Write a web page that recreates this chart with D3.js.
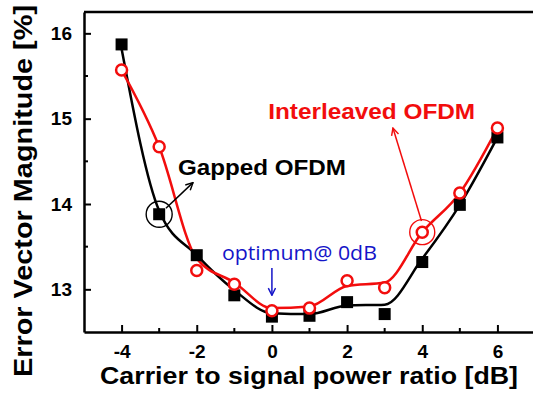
<!DOCTYPE html>
<html>
<head>
<meta charset="utf-8">
<script src="https://cdn.jsdelivr.net/npm/d3@7"></script>
<style>
  html, body { margin: 0; padding: 0; background: #fff; }
  svg { display: block; }
</style>
</head>
<body>
<svg id="chart" width="533" height="393"></svg>
<script>
// ---- data ----
const xValues = [-4, -3, -2, -1, 0, 1, 2, 3, 4, 5, 6];
const gappedValues = [15.87, 13.88, 13.40, 12.93, 12.68, 12.69, 12.85, 12.71, 13.32, 13.99, 14.78];
const interleavedValues = [15.57, 14.67, 13.22, 13.06, 12.75, 12.78, 13.10, 13.02, 13.67, 14.13, 14.89];
// fitted (smoothed) curves
const gappedFit = [15.82, 13.92, 13.40, 12.99, 12.72, 12.71, 12.81, 12.82, 13.36, 13.99, 14.78];
const interleavedFit = [15.57, 14.67, 13.36, 13.08, 12.78, 12.80, 13.04, 13.08, 13.67, 14.13, 14.89];
const xTicks = [-4, -2, 0, 2, 4, 6];
const yTicks = [13, 14, 15, 16];
const xMinorTicks = [-3, -1, 1, 3, 5];
const yMinorTicks = [13.5, 14.5, 15.5];

const svg = d3.select("#chart");
const mLeft = 84, mRight = 535, mTop = 12, mBottom = 332;
const x = d3.scaleLinear().domain([-5, 7]).range([mLeft, mRight]);
const y = d3.scaleLinear().domain([12.5, 16.25]).range([mBottom, mTop]);

const RED = "#f20d0d", BLUE = "#1414c8";
const FONT = "'Liberation Sans', Arial, sans-serif";

// defs: arrowheads
const defs = svg.append("defs");
function arrow(id, color) {
  defs.append("marker").attr("id", id).attr("viewBox", "0 0 10 10")
    .attr("refX", 9).attr("refY", 5).attr("markerWidth", 9).attr("markerHeight", 9)
    .attr("markerUnits", "userSpaceOnUse").attr("orient", "auto")
    .append("path").attr("d", "M1,1 L9,5 L1,9").attr("fill", "none")
    .attr("stroke", color).attr("stroke-width", 1.6);
}
arrow("arrBlack", "#000");
arrow("arrRed", RED);
arrow("arrBlue", BLUE);

// frame: top border
svg.append("line").attr("x1", mLeft).attr("x2", mRight).attr("y1", mTop).attr("y2", mTop)
  .attr("stroke", "#000").attr("stroke-width", 2.5);

// axes
const xAxis = d3.axisBottom(x).tickValues(xTicks).tickSizeInner(-7).tickSizeOuter(0).tickPadding(13)
  .tickFormat(d => d < 0 ? "-" + Math.abs(d) : String(d));
const gx = svg.append("g").attr("transform", `translate(0,${mBottom})`).call(xAxis);
const yAxis = d3.axisLeft(y).tickValues(yTicks).tickSizeInner(-7).tickSizeOuter(0).tickPadding(12)
  .tickFormat(d3.format("d"));
const gy = svg.append("g").attr("transform", `translate(${mLeft},0)`).call(yAxis);
[gx, gy].forEach(g => {
  g.select(".domain").attr("stroke", "#000").attr("stroke-width", 2.5);
  g.selectAll(".tick line").attr("stroke", "#000").attr("stroke-width", 2);
  g.selectAll(".tick text").attr("font-family", FONT).attr("font-weight", "bold")
    .attr("font-size", 19).attr("fill", "#000");
});
gx.selectAll(".tick text").attr("dy", "0.71em");
// minor ticks
svg.append("g").selectAll("line").data(xMinorTicks).join("line")
  .attr("x1", d => x(d)).attr("x2", d => x(d)).attr("y1", mBottom).attr("y2", mBottom - 4)
  .attr("stroke", "#000").attr("stroke-width", 2);
svg.append("g").selectAll("line").data(yMinorTicks).join("line")
  .attr("x1", mLeft).attr("x2", mLeft + 4).attr("y1", d => y(d)).attr("y2", d => y(d))
  .attr("stroke", "#000").attr("stroke-width", 2);

// axis titles
svg.append("text").attr("x", 309).attr("y", 384).attr("text-anchor", "middle")
  .attr("font-family", FONT).attr("font-weight", "bold").attr("font-size", 24)
  .attr("textLength", 418).attr("lengthAdjust", "spacingAndGlyphs")
  .text("Carrier to signal power ratio [dB]");
svg.append("text").attr("transform", "translate(32,191) rotate(-90)").attr("text-anchor", "middle")
  .attr("font-family", FONT).attr("font-weight", "bold").attr("font-size", 26)
  .attr("textLength", 372).attr("lengthAdjust", "spacingAndGlyphs")
  .text("Error Vector Magnitude [%]");

// curves
const line = d3.line().x(d => x(d[0])).y(d => y(d[1])).curve(d3.curveMonotoneX);
svg.append("path").datum(xValues.map((v, i) => [v, gappedFit[i]]))
  .attr("d", line).attr("fill", "none").attr("stroke", "#000").attr("stroke-width", 2.5);
svg.append("path").datum(xValues.map((v, i) => [v, interleavedFit[i]]))
  .attr("d", line).attr("fill", "none").attr("stroke", RED).attr("stroke-width", 2.5);

// markers
const sq = 12;
svg.append("g").selectAll("rect").data(xValues.map((v, i) => [v, gappedValues[i]])).join("rect")
  .attr("x", d => x(d[0]) - sq / 2).attr("y", d => y(d[1]) - sq / 2)
  .attr("width", sq).attr("height", sq).attr("fill", "#000");
svg.append("g").selectAll("circle").data(xValues.map((v, i) => [v, interleavedValues[i]])).join("circle")
  .attr("cx", d => x(d[0])).attr("cy", d => y(d[1])).attr("r", 5.5)
  .attr("fill", "#fff").attr("stroke", RED).attr("stroke-width", 2.5);

// annotations
// Gapped OFDM
svg.append("circle").attr("cx", x(-3)).attr("cy", y(gappedValues[1])).attr("r", 13)
  .attr("fill", "none").attr("stroke", "#000").attr("stroke-width", 1.4);
svg.append("line").attr("x1", x(-2.82)).attr("y1", y(13.95)).attr("x2", x(-2.1)).attr("y2", y(14.25))
  .attr("stroke", "#000").attr("stroke-width", 1.5).attr("marker-end", "url(#arrBlack)");
svg.append("text").attr("x", x(-2.5)).attr("y", y(14.34))
  .attr("font-family", FONT).attr("font-weight", "bold").attr("font-size", 22)
  .attr("textLength", 168).attr("lengthAdjust", "spacingAndGlyphs").attr("fill", "#000")
  .text("Gapped OFDM");

// Interleaved OFDM
svg.append("circle").attr("cx", x(4)).attr("cy", y(interleavedValues[8])).attr("r", 12.5)
  .attr("fill", "none").attr("stroke", RED).attr("stroke-width", 1.4);
svg.append("line").attr("x1", x(3.98)).attr("y1", y(13.8)).attr("x2", x(3.22)).attr("y2", y(14.89))
  .attr("stroke", RED).attr("stroke-width", 1.5).attr("marker-end", "url(#arrRed)");
svg.append("text").attr("x", x(-0.1)).attr("y", y(15.0))
  .attr("font-family", FONT).attr("font-weight", "bold").attr("font-size", 22)
  .attr("textLength", 207).attr("lengthAdjust", "spacingAndGlyphs").attr("fill", RED)
  .text("Interleaved OFDM");

// optimum
svg.append("text").attr("x", x(-1.33)).attr("y", y(13.34))
  .attr("font-family", "'Open Sans', 'Noto Sans', sans-serif").attr("font-size", 20)
  .attr("textLength", 155).attr("lengthAdjust", "spacingAndGlyphs").attr("fill", BLUE)
  .text("optimum@ 0dB");
svg.append("line").attr("x1", x(0)).attr("y1", y(13.25)).attr("x2", x(0)).attr("y2", y(12.93))
  .attr("stroke", BLUE).attr("stroke-width", 1.5).attr("marker-end", "url(#arrBlue)");
</script>
</body>
</html>
